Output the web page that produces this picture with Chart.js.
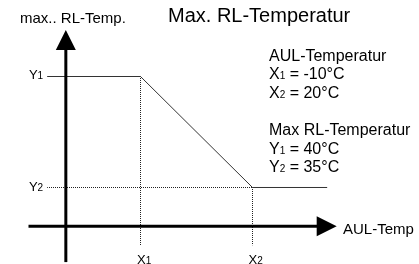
<!DOCTYPE html>
<html>
<head>
<meta charset="utf-8">
<script src="https://cdn.jsdelivr.net/npm/chart.js@4.4.1/dist/chart.umd.min.js"></script>
<style>
  html, body { margin: 0; padding: 0; background: #fff; }
  canvas { display: block; }
</style>
</head>
<body>
<canvas id="myChart" width="419" height="264"></canvas>
<script>
  // break points of the curve: AUL-Temperatur (x) -> max. RL-Temperatur (y)
  const xBreaks = [-10, 20];          // X1, X2
  const yLevels = [40, 35];           // Y1, Y2
  const curveX = [-35, -10, 20, 40];
  const curveY = [40, 40, 35, 35];
  const guideEnd = 32.4;              // dotted guides stop here

  // schematic axes
  const axisCross = [-30, 33.25];
  const xAxisSpan = [-40, 42.55];
  const yAxisSpan = [31.64, 42.1];
  const xRange = [-47.634, 64.598];
  const yRange = [31.554, 43.446];

  const FONT = '"Liberation Sans", Arial, sans-serif';

  function pts(xs, ys) {
    return xs.map((x, i) => ({ x: x, y: ys[i] }));
  }

  // text with small index digit, e.g. X1
  function drawParts(ctx, parts, x, y, align) {
    let total = 0;
    parts.forEach((p) => {
      ctx.font = p[1] + "px " + FONT;
      total += ctx.measureText(p[0]).width;
    });
    let cx = align === "right" ? x - total : x;
    parts.forEach((p) => {
      ctx.font = p[1] + "px " + FONT;
      ctx.fillText(p[0], cx, y);
      cx += ctx.measureText(p[0]).width;
    });
  }

  // keep the 1px dots on whole pixels so they stay dark
  function dashPhase(context) {
    const d = context.dataset.data[0];
    const s = context.chart.scales;
    const px = d.x === context.dataset.data[1].x ? s.y.getPixelForValue(d.y) : s.x.getPixelForValue(d.x);
    return px - Math.floor(px);
  }

  const sketchPlugin = {
    id: "sketch",
    afterDatasetsDraw(chart) {
      const ctx = chart.ctx;
      const sx = chart.scales.x;
      const sy = chart.scales.y;
      const ox = sx.getPixelForValue(axisCross[0]);
      const oy = sy.getPixelForValue(axisCross[1]);

      ctx.save();
      ctx.strokeStyle = "#000";
      ctx.fillStyle = "#000";
      ctx.lineWidth = 3;

      // x axis
      const xl = sx.getPixelForValue(xAxisSpan[0]);
      const xr = sx.getPixelForValue(xAxisSpan[1]);
      ctx.beginPath();
      ctx.moveTo(xl, oy);
      ctx.lineTo(xr - 18, oy);
      ctx.stroke();
      ctx.beginPath();
      ctx.moveTo(xr, oy);
      ctx.lineTo(xr - 20, oy - 10);
      ctx.lineTo(xr - 20, oy + 10);
      ctx.closePath();
      ctx.fill();

      // y axis
      const yb = sy.getPixelForValue(yAxisSpan[0]);
      const yt = sy.getPixelForValue(yAxisSpan[1]);
      ctx.beginPath();
      ctx.moveTo(ox, yb);
      ctx.lineTo(ox, yt + 18);
      ctx.stroke();
      ctx.beginPath();
      ctx.moveTo(ox, yt);
      ctx.lineTo(ox - 10, yt + 20);
      ctx.lineTo(ox + 10, yt + 20);
      ctx.closePath();
      ctx.fill();

      // texts
      ctx.textBaseline = "alphabetic";
      ctx.font = "20px " + FONT;
      ctx.fillText("Max. RL-Temperatur", 168, 22);
      ctx.font = "15px " + FONT;
      ctx.fillText("max.. RL-Temp.", 20, 23);
      ctx.fillText("AUL-Temp", 343, 234);

      const y1 = sy.getPixelForValue(yLevels[0]);
      const y2 = sy.getPixelForValue(yLevels[1]);
      const lx = sx.getPixelForValue(curveX[0]) - 4;
      drawParts(ctx, [["Y", 13], ["1", 10]], lx, y1 + 2.5, "right");
      drawParts(ctx, [["Y", 13], ["2", 10]], lx, y2 + 3.5, "right");

      const x1 = sx.getPixelForValue(xBreaks[0]);
      const x2 = sx.getPixelForValue(xBreaks[1]);
      drawParts(ctx, [["X", 13], ["1", 10]], x1 - 3.5, 264);
      drawParts(ctx, [["X", 13], ["2", 10]], x2 - 4, 264);

      const tx = 269;
      drawParts(ctx, [["AUL-Temperatur", 16]], tx, 60.5);
      drawParts(ctx, [["X", 16], ["1", 10], [" = " + xBreaks[0] + "°C", 16]], tx, 79);
      drawParts(ctx, [["X", 16], ["2", 10], [" = " + xBreaks[1] + "°C", 16]], tx, 97.5);
      drawParts(ctx, [["Max RL-Temperatur", 16]], tx, 135);
      drawParts(ctx, [["Y", 16], ["1", 10], [" = " + yLevels[0] + "°C", 16]], tx, 153.5);
      drawParts(ctx, [["Y", 16], ["2", 10], [" = " + yLevels[1] + "°C", 16]], tx, 172);

      ctx.restore();
    },
  };

  const dotted = {
    showLine: true,
    borderColor: "#222",
    borderWidth: 1,
    borderDash: [1, 1],
    borderDashOffset: dashPhase,
    pointRadius: 0,
    fill: false,
  };

  const ctx = document.getElementById("myChart").getContext("2d");
  const myChart = new Chart(ctx, {
    type: "scatter",
    data: {
      datasets: [
        Object.assign({ label: "X1", data: pts([xBreaks[0], xBreaks[0]], [yLevels[0], guideEnd]) }, dotted),
        Object.assign({ label: "X2", data: pts([xBreaks[1], xBreaks[1]], [yLevels[1], guideEnd]) }, dotted),
        Object.assign({ label: "Y2", data: pts([curveX[0], xBreaks[1]], [yLevels[1], yLevels[1]]) }, dotted),
        {
          label: "Max. RL-Temperatur",
          data: pts(curveX, curveY),
          showLine: true,
          borderColor: "#333",
          borderWidth: 1,
          pointRadius: 0,
          fill: false,
        },
      ],
    },
    options: {
      responsive: false,
      animation: false,
      layout: { padding: 0 },
      scales: {
        x: { type: "linear", min: xRange[0], max: xRange[1], display: false },
        y: { type: "linear", min: yRange[0], max: yRange[1], display: false },
      },
      plugins: {
        legend: { display: false },
        tooltip: { enabled: false },
        title: { display: false },
      },
    },
    plugins: [sketchPlugin],
  });
</script>
</body>
</html>
